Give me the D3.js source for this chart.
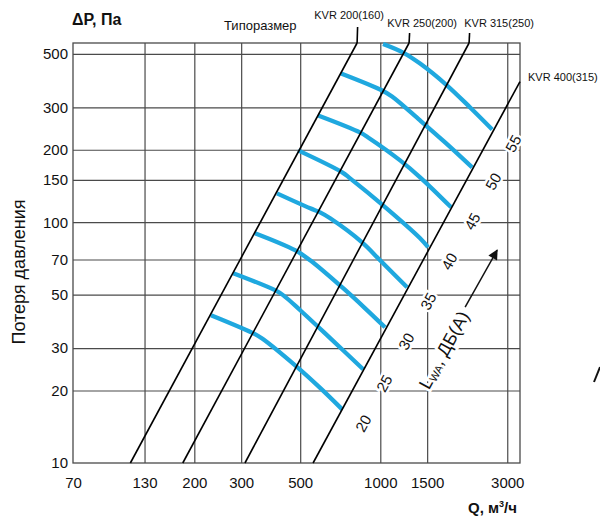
<!DOCTYPE html>
<html>
<head>
<meta charset="utf-8">
<script src="https://cdn.jsdelivr.net/npm/d3@7"></script>
<style>
  html, body { margin: 0; padding: 0; background: #fff; }
  text { font-family: "Liberation Sans", Arial, sans-serif; fill: #111; }
</style>
</head>
<body>
<svg id="chart" width="600" height="525"></svg>
<script>
// ---------------- data ----------------
const xTickValues = [70, 130, 200, 300, 500, 1000, 1500, 3000];
const xGridValues = [130, 200, 300, 500, 1000, 1500, 3000];
const yTickValues = [10, 20, 30, 50, 70, 100, 150, 200, 300, 500];
const yGridValues = [20, 30, 50, 70, 100, 150, 200, 300, 500];

// size (Типоразмер) lines: straight lines in log-log, ΔP ~ Q^2
const sizeNames = ["KVR 200(160)", "KVR 250(200)", "KVR 315(250)", "KVR 400(315)"];
const sizeQLow  = [115, 181, 310, 559];   // Q at ΔP = 10 Pa
const sizePLow  = [10, 10, 10, 10];
const sizeQHigh = [818, 1283, 2156, 3350];
const sizePHigh = [555, 555, 555, 384];

// sound power level curves L_WA, dB(A)
const noiseLevels = [20, 25, 30, 35, 40, 45, 50, 55];
const noise20 = [[231, 41.1], [338, 34.3], [362, 32.7], [487, 25.0], [594, 20.5], [719, 16.7]];
const noise25 = [[280, 61.4], [402, 52.2], [431, 49.8], [500, 43.1], [648, 33.0], [862, 24.5]];
const noise30 = [[338, 90.0], [478, 76.5], [545, 69.5], [725, 53.2], [877, 43.9], [1042, 36.6]];
const noise35 = [[409, 131.8], [545, 114.2], [594, 109.9], [648, 103.8], [854, 82.5], [998, 69.5], [1261, 53.7]];
const noise40 = [[491, 198.7], [719, 161.1], [770, 152.1], [1024, 117.5], [1411, 85.8], [1512, 78.7]];
const noise45 = [[584, 277.6], [839, 236], [900, 224.9], [1187, 180.6], [1411, 153.6], [1846, 115.3]];
const noise50 = [[712, 414.7], [1016, 352.5], [1107, 332.8], [1411, 264.6], [1752, 214.5], [2214, 168.9]];
const noise55 = [[1024, 550], [1218, 506.6], [1411, 456], [1783, 369.6], [2176, 299.6], [2633, 242.8]];
const noiseCurves = [noise20, noise25, noise30, noise35, noise40, noise45, noise50, noise55];

// annotation anchors (data coordinates)
const lwaLabelAt = [1737, 29.4];
const arrowFrom = [2084, 44.4];
const arrowTo = [2749, 76.5];

// ---------------- layout ----------------
const svg = d3.select("#chart");
const mLeft = 73, mRight = 520, mTop = 43, mBottom = 463;
const x = d3.scaleLog().domain([70, 3350]).range([mLeft, mRight]);
const y = d3.scaleLog().domain([10, 555]).range([mBottom, mTop]);

const gridColor = "#4a4a4a";
const blue = "#1fa8df";

// grid lines through axes
svg.append("g")
  .attr("transform", `translate(0,${mBottom})`)
  .call(d3.axisBottom(x).tickValues(xGridValues).tickSize(-(mBottom - mTop)).tickFormat(""))
  .call(g => g.select(".domain").remove())
  .call(g => g.selectAll("line").attr("stroke", gridColor).attr("stroke-width", 1.2));

svg.append("g")
  .attr("transform", `translate(${mLeft},0)`)
  .call(d3.axisLeft(y).tickValues(yGridValues).tickSize(-(mRight - mLeft)).tickFormat(""))
  .call(g => g.select(".domain").remove())
  .call(g => g.selectAll("line").attr("stroke", gridColor).attr("stroke-width", 1.2));

// frame
svg.append("rect")
  .attr("x", mLeft).attr("y", mTop)
  .attr("width", mRight - mLeft).attr("height", mBottom - mTop)
  .attr("fill", "none").attr("stroke", gridColor).attr("stroke-width", 1.3);

// tick labels
svg.append("g")
  .attr("transform", `translate(0,${mBottom})`)
  .call(d3.axisBottom(x).tickValues(xTickValues).tickSize(0).tickPadding(14).tickFormat(d3.format("d")))
  .call(g => g.select(".domain").remove())
  .call(g => g.selectAll("text").attr("font-size", 15).attr("font-family", "Liberation Sans, Arial, sans-serif").attr("fill", "#111"));

svg.append("g")
  .attr("transform", `translate(${mLeft},0)`)
  .call(d3.axisLeft(y).tickValues(yTickValues).tickSize(0).tickPadding(5).tickFormat(d3.format("d")))
  .call(g => g.select(".domain").remove())
  .call(g => g.selectAll("text").attr("font-size", 15).attr("font-family", "Liberation Sans, Arial, sans-serif").attr("fill", "#111"));

// clip
svg.append("clipPath").attr("id", "plotClip")
  .append("rect").attr("x", mLeft).attr("y", mTop - 1).attr("width", mRight - mLeft).attr("height", mBottom - mTop + 1);

// noise curves
const lineGen = d3.line().x(d => x(d[0])).y(d => y(d[1])).curve(d3.curveCatmullRom.alpha(0.5));
svg.append("g").attr("clip-path", "url(#plotClip)")
  .selectAll("path").data(noiseCurves).join("path")
  .attr("d", lineGen)
  .attr("fill", "none").attr("stroke", blue).attr("stroke-width", 4.3).attr("stroke-linecap", "butt");

// size lines
const sizeData = sizeNames.map((n, i) => ({
  name: n, p0: [sizeQLow[i], sizePLow[i]], p1: [sizeQHigh[i], sizePHigh[i]]
}));
svg.append("g").selectAll("line").data(sizeData).join("line")
  .attr("x1", d => x(d.p0[0])).attr("y1", d => y(d.p0[1]))
  .attr("x2", d => x(d.p1[0])).attr("y2", d => y(d.p1[1]))
  .attr("stroke", "#000").attr("stroke-width", 1.6);

// leader ticks above the frame for first three sizes
const leaderTop = [27, 33, 33];
const labelDx = [-8, 13, 30];
const labelY = [19, 27, 27];
sizeData.slice(0, 3).forEach((d, i) => {
  const xt = x(d.p1[0]);
  svg.append("line").attr("x1", xt).attr("x2", xt + 0.5)
    .attr("y1", mTop).attr("y2", leaderTop[i])
    .attr("stroke", "#000").attr("stroke-width", 1.6);
  svg.append("text").attr("x", xt + labelDx[i]).attr("y", labelY[i])
    .attr("text-anchor", "middle").attr("font-size", 11).text(d.name);
});
// fourth label
{
  const d = sizeData[3];
  svg.append("text").attr("x", x(d.p1[0]) + 8).attr("y", y(d.p1[1]) - 1)
    .attr("font-size", 11).text(d.name);
}

svg.append("text").attr("x", 224).attr("y", 30).attr("font-size", 13).text("Типоразмер");

// noise level labels
const ang = -61.5;
svg.append("g").selectAll("text").data(noiseCurves).join("text")
  .attr("transform", d => {
    const last = d[d.length - 1];
    return `translate(${x(last[0]) + 21},${y(last[1]) + 14}) rotate(${ang})`;
  })
  .attr("text-anchor", "middle").attr("dominant-baseline", "central")
  .attr("font-size", 15)
  .attr("stroke", "#fff").attr("stroke-width", 5).attr("paint-order", "stroke")
  .text((d, i) => noiseLevels[i]);

// L_WA label
const lwa = svg.append("text")
  .attr("transform", `translate(${x(lwaLabelAt[0])},${y(lwaLabelAt[1])}) rotate(${ang})`)
  .attr("text-anchor", "middle").attr("dominant-baseline", "central")
  .attr("font-size", 18)
  .attr("stroke", "#fff").attr("stroke-width", 5).attr("paint-order", "stroke");
lwa.append("tspan").text("L");
lwa.append("tspan").attr("font-size", 11).attr("dy", 4).text("WA");
lwa.append("tspan").attr("dy", -4).text(", ДБ(А)");

// arrow
svg.append("defs").append("marker")
  .attr("id", "arrowHead").attr("viewBox", "0 0 10 10")
  .attr("refX", 9).attr("refY", 5)
  .attr("markerWidth", 14).attr("markerHeight", 10)
  .attr("markerUnits", "userSpaceOnUse")
  .attr("orient", "auto")
  .append("path").attr("d", "M0,0 L10,5 L0,10 Z").attr("fill", "#111");
svg.append("line")
  .attr("x1", x(arrowFrom[0])).attr("y1", y(arrowFrom[1]))
  .attr("x2", x(arrowTo[0])).attr("y2", y(arrowTo[1]))
  .attr("stroke", "#111").attr("stroke-width", 1.5)
  .attr("marker-end", "url(#arrowHead)");

// axis titles
svg.append("text").attr("x", 72).attr("y", 25).attr("font-size", 16).attr("font-weight", "bold").text("ΔP, Па");
const qt = svg.append("text").attr("x", 517).attr("y", 513).attr("text-anchor", "end")
  .attr("font-size", 15).attr("font-weight", "bold");
qt.append("tspan").text("Q, м");
qt.append("tspan").attr("font-size", 9).attr("dy", -6).text("3");
qt.append("tspan").attr("dy", 6).text("/ч");
svg.append("text").attr("transform", "translate(25,272) rotate(-90)")
  .attr("text-anchor", "middle").attr("font-size", 18).text("Потеря давления");

// cut-off mark at right edge
svg.append("line").attr("x1", 594).attr("y1", 382).attr("x2", 600).attr("y2", 367)
  .attr("stroke", "#111").attr("stroke-width", 2);
</script>
</body>
</html>
